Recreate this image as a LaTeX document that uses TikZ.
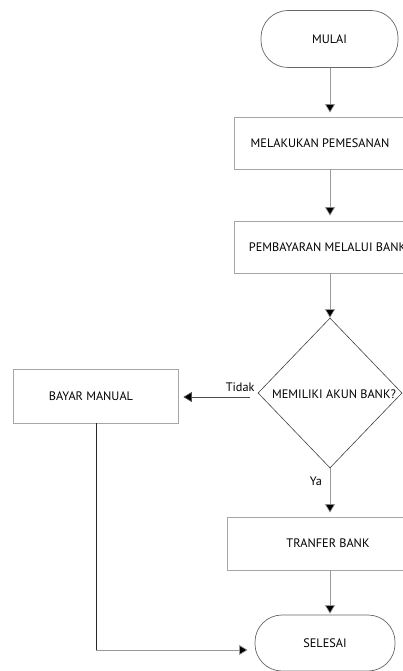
\documentclass[tikz,border=0pt]{standalone}
\usepackage{fontspec}
\setmainfont{PT Sans}
\usetikzlibrary{shapes.geometric,arrows.meta}
\begin{document}
\begin{tikzpicture}[x=1pt,y=-1pt,
  font=\fontsize{12.3}{14}\selectfont,
  terminal/.style={draw=black!60,line width=0.7pt,rounded corners=27pt,inner sep=0pt},
  procbox/.style={draw=black!35,line width=0.9pt,inner sep=0pt},
  decision/.style={diamond,draw=black!75,line width=0.6pt,inner sep=0pt,aspect=1},
  tip/.style={-{Triangle[width=10pt,length=8.5pt,fill=black]}},
  conn/.style={draw=black!40,line width=0.6pt,tip},
  lbl/.style={inner sep=0pt}]
\useasboundingbox (0,0) rectangle (403,671);
\clip (0,0) rectangle (403,671);

% start / end terminals
\node[terminal,minimum width=137pt,minimum height=57pt] (mulai) at (329.5,39) {MULAI};
\node[terminal,minimum width=140pt,minimum height=56pt] (selesai) at (325,643) {SELESAI};

% process boxes
\node[procbox,minimum width=172pt,minimum height=52pt] (pesan) at (320,143) {MELAKUKAN PEMESANAN};
\node[procbox,minimum width=190pt,minimum height=52pt] (bayarbank) at (329,247) {PEMBAYARAN MELALUI BANK\hspace*{3pt}};
\node[procbox,minimum width=165pt,minimum height=54pt] (manual) at (95.5,396) {BAYAR MANUAL\hspace*{9pt}};
\node[procbox,minimum width=202pt,minimum height=53pt] (transfer) at (328,543.5) {TRANFER BANK};

% decision
\node[decision,minimum width=144pt,minimum height=150pt] (akun) at (330,393) {};
\node[lbl] (akuntext) at (334,394) {MEMILIKI AKUN BANK?};

% connectors
\coordinate (x0) at (330,0);
\draw[conn,shorten >=4pt] (mulai.south -| x0) -- (pesan.north -| x0);
\draw[conn,shorten >=5pt] (pesan.south -| x0) -- (bayarbank.north -| x0);
\draw[conn] (bayarbank.south -| x0) -- (akun.north);
\draw[conn,shorten >=4pt] (akun.south) -- (akun.south |- transfer.north);
\draw[conn,shorten >=1pt] (transfer.south -| akun.south) -- (akun.south |- selesai.north);

% "Tidak" branch
\coordinate (tstart) at ([xshift=-8pt,yshift=-4pt]akun.west);
\draw[conn,draw=black!70,shorten >=5pt] (tstart) -- (manual.east |- tstart);
\node[lbl,anchor=south east] (tidak) at ([xshift=-3pt,yshift=1pt]akun.west) {Tidak};

% "Ya" label
\node[lbl] (ya) at (316,481) {Ya};

% manual payment back to the end terminal
\coordinate (mbot) at ([xshift=0.5pt]manual.south);
\coordinate (corner) at (mbot |- 0,650);
\draw[draw=black!85,line width=0.8pt] (mbot) -- (corner);
\draw[conn,line width=0.7pt,shorten >=7pt] (corner) -- (selesai.west |- corner);
\end{tikzpicture}
\end{document}
